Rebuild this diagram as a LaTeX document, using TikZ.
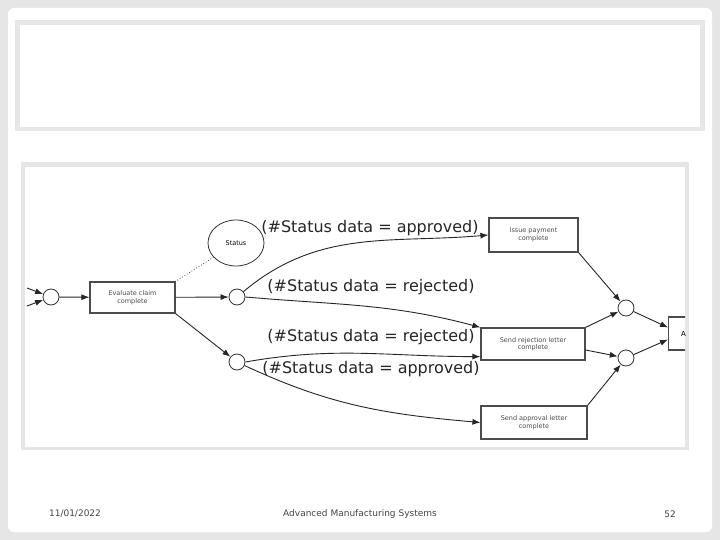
\documentclass[tikz,border=0pt]{standalone}
\usepackage{fontspec}
\setmainfont{DejaVu Sans}
\usetikzlibrary{arrows.meta,shapes.geometric}
\definecolor{pagegray}{HTML}{E6E6E6}
\definecolor{foot}{HTML}{444444}
\tikzset{
  place/.style={draw=black!80,line width=0.8pt,circle,minimum size=16pt,inner sep=0pt,fill=white},
  trans/.style={draw=black!70,line width=1.2pt,fill=white,inner sep=1pt,align=center,font=\fontsize{6.5}{7.5}\selectfont\color{black!70}},
  arc/.style={draw=black!85,line width=0.9pt,-{Latex[length=8pt,width=6pt]}},
  guard/.style={font=\fontsize{16}{18}\selectfont\color{black!85}},
  footer/.style={font=\fontsize{9}{11}\selectfont\color{foot}}
}
\begin{document}
\begin{tikzpicture}[x=1pt,y=-1pt]
\useasboundingbox (0,0) rectangle (720,540);
\fill[pagegray] (0,0) rectangle (720,540);
\fill[white,rounded corners=6pt] (8,8) rectangle (712,532);
\fill[pagegray] (15,20) rectangle (705,131);
\fill[white] (20,25) rectangle (700,127);
\fill[pagegray] (21,162) rectangle (689,450);
\fill[white] (25,167) rectangle (685,447);
\begin{scope}
\clip (25,167) rectangle (685,447);
\node[place] (p0) at (51,297) {};
\coordinate (in1) at (27,288);
\coordinate (in2) at (27,306);
\draw[arc] (in1) -- (p0);
\draw[arc] (in2) -- (p0);
\node[trans,minimum width=85pt,minimum height=31pt] (eval) at (132.5,297.5) {Evaluate claim\\complete};
\node[draw=black!80,line width=0.8pt,ellipse,minimum width=56pt,minimum height=46pt,inner sep=0pt,font=\fontsize{6.5}{7.5}\selectfont] (status) at (236,243) {Status};
\node[place] (c1) at (237,297) {};
\node[place] (c2) at (237,362) {};
\node[trans,minimum width=89pt,minimum height=34pt] (issue) at (533.5,235) {Issue payment\\complete};
\node[trans,minimum width=104pt,minimum height=32pt] (rej) at (533,344) {Send rejection letter\\complete};
\node[trans,minimum width=106pt,minimum height=33pt] (appr) at (534,422.5) {Send approval letter\\complete};
\node[place] (c3) at (626,308) {};
\node[place] (c4) at (626,358) {};
\node[trans,minimum width=30pt,minimum height=33pt,anchor=west,font=\fontsize{7}{8}\selectfont] (a) at (668,333.5) {A\rlap{c}};
\draw[dotted,line width=0.8pt,black!70] (status) -- (eval.north east);
\draw[arc] (p0) -- (eval);
\draw[arc] (eval) -- (c1);
\draw[arc] (eval.south east) -- (c2);
\draw[arc] (c1) to[out=40,in=185] (issue.west);
\draw[arc] (c1.east) to[out=-5,in=165] (rej.north west);
\draw[arc] (c2.east) to[out=10,in=180] ([yshift=4pt]rej.south west);
\draw[arc] (c2) to[out=-25,in=175] (appr.west);
\draw[arc] (issue.south east) -- (c3);
\draw[arc] (rej.north east) -- (c3);
\draw[arc] ([yshift=-6pt]rej.east) -- (c4);
\draw[arc] (appr.north east) -- (c4);
\draw[arc] (c3) -- ([yshift=6pt]a.west);
\draw[arc] (c4) -- ([yshift=-6pt]a.west);
\node[guard] (g1) at (370,228) {(\#Status data = approved)};
\node[guard] (g2) at (371,287) {(\#Status data = rejected)};
\node[guard] (g3) at (371,337) {(\#Status data = rejected)};
\node[guard] (g4) at (371,369) {(\#Status data = approved)};
\end{scope}
\node[footer] (date) at (75,514) {11/01/2022};
\node[footer] (title) at (360,514) {Advanced Manufacturing Systems};
\node[footer] (num) at (670,514) {52};
\end{tikzpicture}
\end{document}
